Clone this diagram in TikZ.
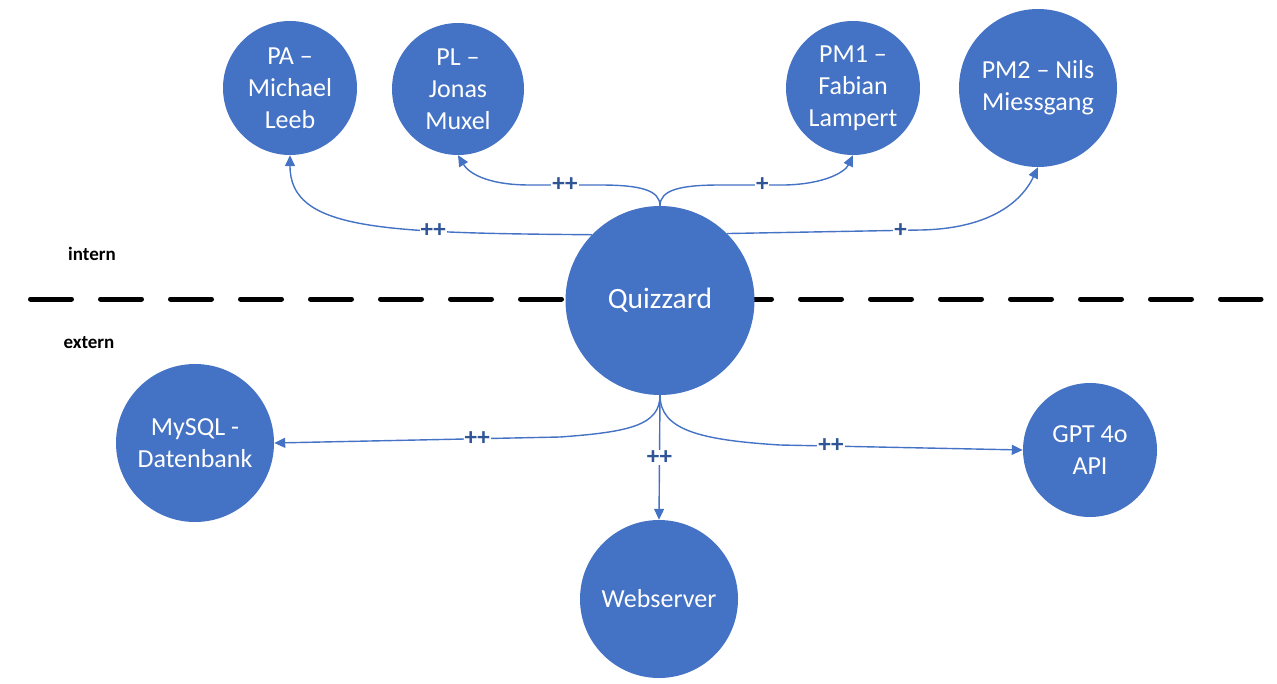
\documentclass[tikz,border=0pt]{standalone}
\usepackage{fontspec}
\setmainfont{Carlito}
\usetikzlibrary{arrows.meta}
\definecolor{nodeblue}{HTML}{4472C4}
\definecolor{labblue}{HTML}{2F5597}
\begin{document}
\begin{tikzpicture}[x=1pt,y=-1pt,
  ent/.style={circle, fill=nodeblue, inner sep=0pt, text=white, align=center, font=\fontsize{26}{32}\selectfont},
  conn/.style={draw=nodeblue, line width=1.4pt, -{Triangle[length=11pt,width=10pt]}},
  lab/.style={fill=white, text=labblue, font=\bfseries\fontsize{25}{26}\selectfont, inner sep=1pt},
  side/.style={font=\bfseries\fontsize{19}{22}\selectfont},
  divider/.style={line width=5pt, line cap=round, dash pattern=on 41pt off 29pt}]
\useasboundingbox (0,0) rectangle (1277,683);
% divider
\coordinate (dl) at (30.5,299);
\coordinate (dr) at (1261,299);
\draw[divider] (dl) -- (dr);
\node[side] (intern) at (92,254) {intern};
\node[side] (extern) at (89,343) {extern};
% nodes
\node[ent, minimum size=189pt, font=\fontsize{29.5}{34}\selectfont] (Q) at (660,300.5) {Quizzard};
\node[ent, minimum size=134pt] (PA) at (290,88) {PA –\\Michael\\Leeb};
\node[ent, minimum size=132pt] (PL) at (458,89) {PL –\\Jonas\\Muxel};
\node[ent, minimum size=134pt] (PM1) at (853,88) {PM1 –\\Fabian\\Lampert};
\node[ent, minimum size=158pt] (PM2) at (1038,88) {PM2 – Nils\\Miessgang};
\node[ent, minimum size=158pt] (DB) at (195,443) {MySQL -\\Datenbank};
\node[ent, minimum size=134pt] (GPT) at (1090,450) {GPT 4o\\API};
\node[ent, minimum size=158pt] (WEB) at (659,599) {Webserver};
% connectors
\draw[conn] (Q.136) .. controls (380,233) and (290,230) .. node[lab, pos=0.3] {++} (PA.south);
\draw[conn] (Q.north) .. controls (660,190) and (640,185) .. (600,185)
  -- node[lab] {++} (530,185) .. controls (485,185) and (468,172) .. (PL.south);
\draw[conn] (Q.north) .. controls (660,190) and (680,185) .. (720,185)
  -- node[lab, pos=0.65] {+} (785,185) .. controls (825,184) and (845,172) .. (PM1.south);
\draw[conn] (Q.45) -- node[lab, pos=0.9] {+} (920,230) .. controls (985,229) and (1020,205) .. (PM2.south);
\draw[conn] (Q.south) -- node[lab] {++} (WEB.north);
\draw[conn] (Q.south) .. controls (660,425) and (630,432) .. (560,437)
  -- node[lab, pos=0.29] {++} (DB.east);
\draw[conn] (Q.south) .. controls (660,430) and (700,440) .. (780,445)
  -- node[lab, pos=0.21] {++} (GPT.west);
\end{tikzpicture}
\end{document}
